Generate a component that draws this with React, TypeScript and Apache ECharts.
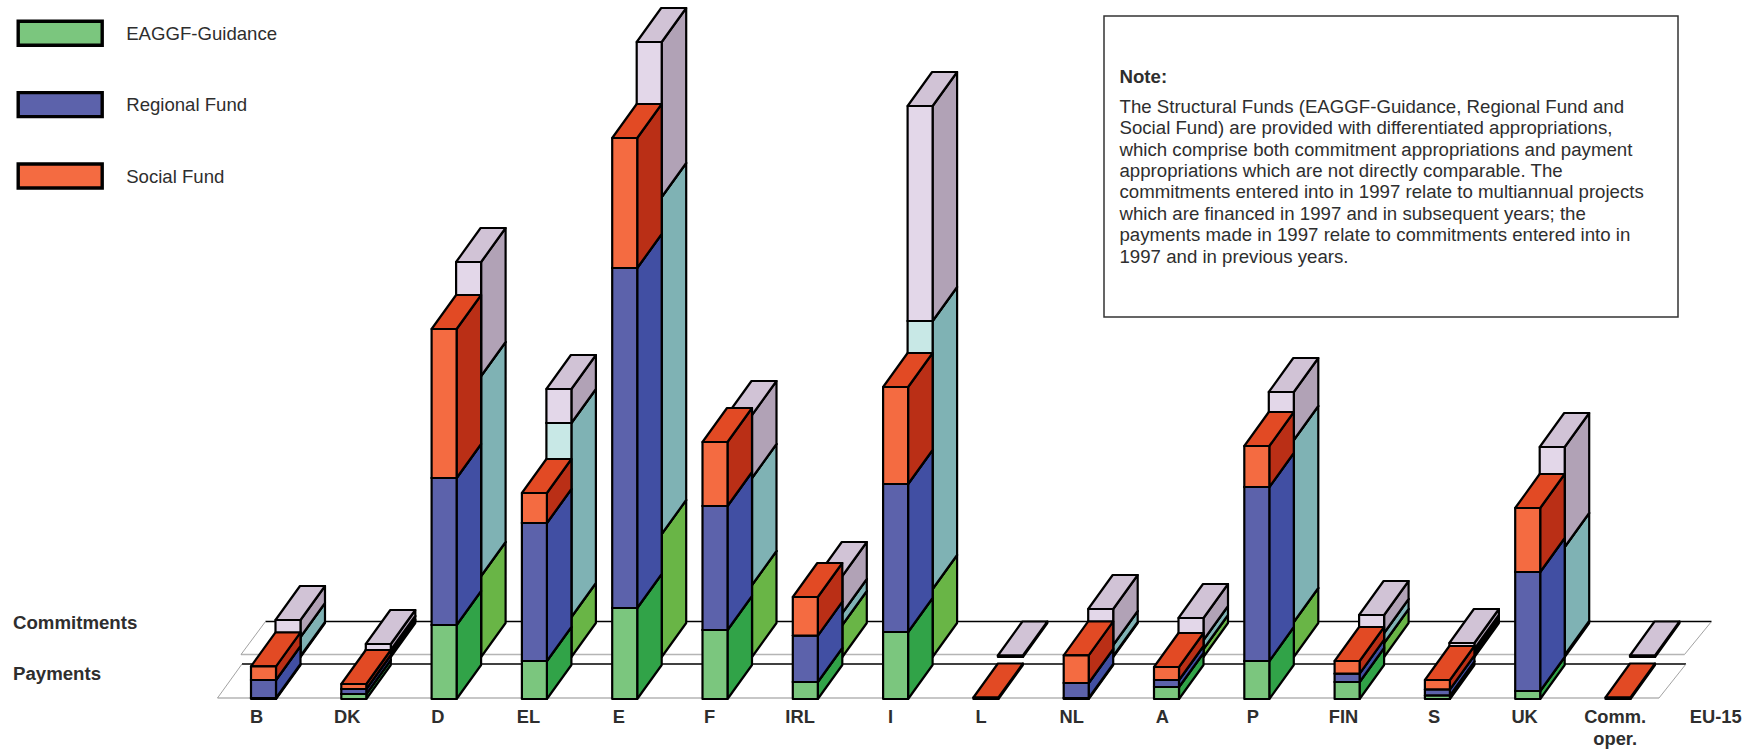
import React, { useEffect, useRef } from "react";
import * as echarts from "echarts";

// Country labels along the floor; the last label has no bars of its own.
const barCategories = ["B", "DK", "D", "EL", "E", "F", "IRL", "I", "L", "NL", "A", "P", "FIN", "S", "UK", "Comm.\noper."];
const labelCategories = [...barCategories, "EU-15"];

// Appropriations by fund, Mio ECU, 1997.
const paymentsGuidance = [10, 50, 740, 380, 910, 690, 170, 670, 0, 10, 120, 380, 170, 37, 80, 0];
const paymentsRegional = [180, 50, 1470, 1380, 3400, 1240, 464, 1480, 0, 150, 70, 1740, 83, 60, 1190, 0];
const paymentsSocial = [136, 50, 1490, 300, 1300, 640, 386, 970, 15, 276, 130, 410, 127, 93, 640, 15];
const commitmentsGuidance = [10, 30, 810, 400, 1230, 720, 320, 680, 0, 10, 80, 350, 140, 40, 20, 0];
const commitmentsRegional = [190, 40, 2000, 1940, 3370, 1070, 120, 2680, 0, 110, 90, 1820, 100, 40, 1080, 0];
const commitmentsSocial = [170, 60, 1140, 340, 1550, 630, 370, 2150, 15, 360, 220, 480, 180, 60, 1000, 15];

const fundNames = ["EAGGF-Guidance", "Regional Fund", "Social Fund"];
const rowLabels = ["Commitments", "Payments"];
const noteTitle = "Note:";
const noteLines = [
  "The Structural Funds (EAGGF-Guidance, Regional Fund and",
  "Social Fund) are provided with differentiated appropriations,",
  "which comprise both commitment appropriations and payment",
  "appropriations which are not directly comparable. The",
  "commitments entered into in 1997 relate to multiannual projects",
  "which are financed in 1997 and in subsequent years; the",
  "payments made in 1997 relate to commitments entered into in",
  "1997 and in previous years.",
];

// Face colours of each fund's block: front, side, top.
const paymentFaces = [
  ["#7BC67E", "#31A348", "#58B45C"],
  ["#5C62AB", "#414FA3", "#4C58A8"],
  ["#F46B41", "#BA2F16", "#E24A24"],
];
const commitmentFaces = [
  ["#BFE3B0", "#69B546", "#8CC870"],
  ["#C8E8E6", "#7FB2B4", "#A4CDCD"],
  ["#E3D7E9", "#B1A2B6", "#D1C3D6"],
];

const FONT = '"Liberation Sans", Arial, sans-serif';
const TEXT = "#2e2e2e";
const BAR_WIDTH = 25;
const DEPTH_X = 24.5;
const DEPTH_Y = -34;
const COMMIT_SHIFT_X = 24.5;
const COMMIT_SHIFT_Y = -42;

const cumulative = (layers: number[][]) => {
  const running = layers[0].map(() => 0);
  return layers.map((layer) =>
    layer.map((v, i) => {
      const low = running[i];
      running[i] += v;
      return [i, low, running[i]];
    }),
  );
};

// One block of a stack: front, right side and top faces with a black outline.
const blockRenderer = (faces: string[], shiftX: number, shiftY: number) => (_params: any, api: any) => {
  const low = api.value(1);
  const high = api.value(2);
  if (high <= low) return { type: "group", children: [] };
  const [cx, y0Raw] = api.coord([api.value(0), low]);
  const [, y1Raw] = api.coord([api.value(0), high]);
  const x0 = cx - BAR_WIDTH / 2 + shiftX;
  const x1 = x0 + BAR_WIDTH;
  const y0 = y0Raw + shiftY;
  const y1 = y1Raw + shiftY;
  const line = { stroke: "#000", lineWidth: 2.2, lineJoin: "round" };
  const face = (points: number[][], fill: string) => ({
    type: "polygon",
    shape: { points },
    style: { fill, ...line },
  });
  return {
    type: "group",
    children: [
      face([[x1, y0], [x1 + DEPTH_X, y0 + DEPTH_Y], [x1 + DEPTH_X, y1 + DEPTH_Y], [x1, y1]], faces[1]),
      face([[x0, y1], [x1, y1], [x1 + DEPTH_X, y1 + DEPTH_Y], [x0 + DEPTH_X, y1 + DEPTH_Y]], faces[2]),
      face([[x0, y0], [x1, y0], [x1, y1], [x0, y1]], faces[0]),
    ],
  };
};

// The two floor strips that carry the rows of bars.
const floorRenderer = (_params: any, api: any) => {
  const [first, base] = api.coord([0, 0]);
  const [last] = api.coord([barCategories.length - 1, 0]);
  const strip = (xl: number, xr: number, yFront: number, yBack: number) => {
    const xlBack = xl + 24.5;
    const xrBack = xr + 27;
    return [
      { type: "line", shape: { x1: xl, y1: yFront, x2: xr, y2: yFront }, style: { stroke: "#b5b5b5", lineWidth: 1.5 } },
      { type: "line", shape: { x1: xlBack, y1: yBack, x2: xrBack, y2: yBack }, style: { stroke: "#000", lineWidth: 1.5 } },
      { type: "line", shape: { x1: xl, y1: yFront, x2: xlBack, y2: yBack }, style: { stroke: "#8a8a8a", lineWidth: 0.8 } },
      { type: "line", shape: { x1: xr, y1: yFront, x2: xrBack, y2: yBack }, style: { stroke: "#8a8a8a", lineWidth: 0.8 } },
    ];
  };
  const left = first - 46;
  const right = last + 41;
  return {
    type: "group",
    children: [
      ...strip(left + COMMIT_SHIFT_X - 1, right + COMMIT_SHIFT_X + 1, base - 44.5, base - 77.5),
      ...strip(left, right, base - 1, base - 35),
    ],
  };
};

const blockSeries = (name: string, data: number[][], faces: string[], dx: number, dy: number) => ({
  type: "custom",
  name,
  xAxisIndex: 0,
  yAxisIndex: 0,
  data,
  encode: { x: 0, y: [1, 2] },
  renderItem: blockRenderer(faces, dx, dy),
  silent: true,
  itemStyle: { color: faces[0] },
});

export default function App() {
  const ref = useRef<HTMLDivElement>(null);

  useEffect(() => {
    const chart = echarts.init(ref.current!, undefined, { renderer: "svg" });
    const paid = cumulative([paymentsGuidance, paymentsRegional, paymentsSocial]);
    const committed = cumulative([commitmentsGuidance, commitmentsRegional, commitmentsSocial]);

    chart.setOption({
      animation: false,
      backgroundColor: "#fff",
      grid: [
        { left: 218.35, width: 1444.8, top: 9, bottom: 50 },
        { left: 211.4, width: 1544.45, top: 9, bottom: 50 },
      ],
      xAxis: [
        { type: "category", gridIndex: 0, data: barCategories, axisLine: { show: false }, axisTick: { show: false }, axisLabel: { show: false } },
        {
          type: "category",
          gridIndex: 1,
          data: labelCategories,
          axisLine: { show: false },
          axisTick: { show: false },
          axisLabel: {
            interval: 0,
            margin: 10,
            fontFamily: FONT,
            fontSize: 18.3,
            fontWeight: "bold",
            color: TEXT,
            lineHeight: 22,
            verticalAlign: "top",
            formatter: (v: string) => (v === "EU-15" ? `{far|${v}}` : v),
            rich: { far: { padding: [0, 0, 0, 20], fontFamily: FONT, fontSize: 18.3, fontWeight: "bold", color: TEXT } },
          },
        },
      ],
      yAxis: [
        { type: "value", gridIndex: 0, min: 0, max: 6900, show: false },
        { type: "value", gridIndex: 1, min: 0, max: 6900, show: false },
      ],
      legend: {
        orient: "vertical",
        left: 16.5,
        top: 19.5,
        padding: 0,
        icon: "rect",
        itemWidth: 84,
        itemHeight: 24,
        itemGap: 44,
        selectedMode: false,
        textStyle: { fontFamily: FONT, fontSize: 18.6, color: TEXT, padding: [0, 0, 0, 19] },
        data: fundNames.map((name, i) => ({
          name,
          itemStyle: { color: paymentFaces[i][0], borderColor: "#000", borderWidth: 3.4 },
        })),
      },
      series: [
        {
          type: "custom",
          name: "floor",
          xAxisIndex: 0,
          yAxisIndex: 0,
          data: [[0, 0]],
          renderItem: floorRenderer,
          silent: true,
        },
        ...committed.map((d, i) => blockSeries(`Commitments, ${fundNames[i]}`, d, commitmentFaces[i], COMMIT_SHIFT_X, COMMIT_SHIFT_Y)),
        ...paid.map((d, i) => blockSeries(fundNames[i], d, paymentFaces[i], 0, 0)),
      ],
      graphic: [
        { type: "text", x: 13, y: 622, style: { text: rowLabels[0], font: `bold 18.65px ${FONT}`, fill: TEXT, verticalAlign: "middle" } },
        { type: "text", x: 13, y: 673, style: { text: rowLabels[1], font: `bold 18.65px ${FONT}`, fill: TEXT, verticalAlign: "middle" } },
        { type: "rect", shape: { x: 1104, y: 16, width: 574, height: 301 }, style: { fill: "#fff", stroke: "#333", lineWidth: 1.5 } },
        { type: "text", x: 1119.5, y: 76, style: { text: noteTitle, font: `bold 18.65px ${FONT}`, fill: TEXT, verticalAlign: "middle" } },
        ...noteLines.map((line, i) => ({
          type: "text",
          x: 1119.5,
          y: 106.2 + i * 21.4,
          style: { text: line, font: `18.65px ${FONT}`, fill: TEXT, verticalAlign: "middle" },
        })),
      ],
    });
    return () => chart.dispose();
  }, []);

  return <div ref={ref} style={{ position: "absolute", left: 0, top: 0, width: 1751, height: 749 }} />;
}
